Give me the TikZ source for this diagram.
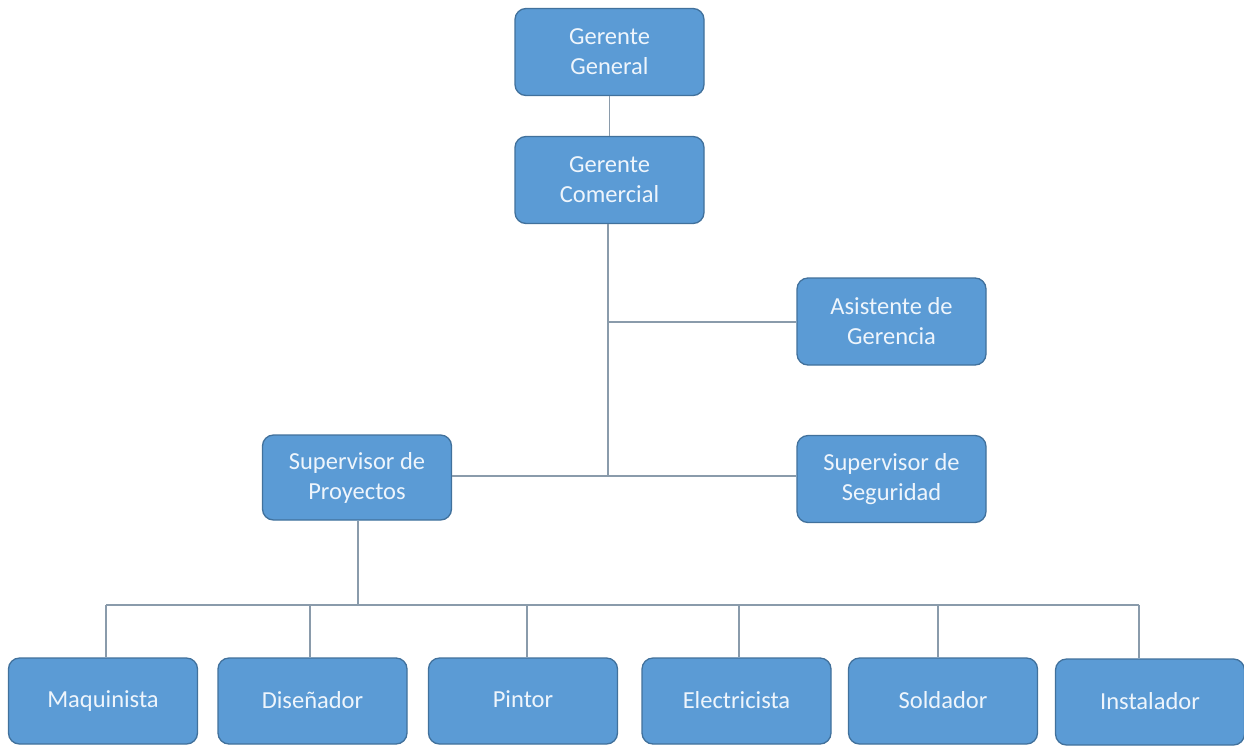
\documentclass[tikz,border=0pt]{standalone}
\usepackage{fontspec}
\setmainfont{Carlito}
\definecolor{boxfill}{HTML}{5B9BD5}
\definecolor{boxedge}{HTML}{41719C}
\definecolor{linkcol}{HTML}{8A9BAB}
\definecolor{txtcol}{HTML}{EEF5FC}
\begin{document}
\begin{tikzpicture}[x=1pt,y=-1pt,
  orgbox/.style={draw=boxedge, line width=1.3pt, fill=boxfill, rounded corners=11pt,
    minimum width=189pt, minimum height=87pt, inner sep=0pt, align=center,
    text=txtcol, font=\fontsize{24.5}{30}\selectfont},
  link/.style={draw=linkcol, line width=1.3pt}]
\useasboundingbox (0,0) rectangle (1244,745);
\fill[white] (0,0) rectangle (1244,745);

\node[orgbox] (gg) at (609.5,52) {Gerente\\General};
\node[orgbox] (gc) at (609.5,180) {Gerente\\Comercial};
\node[orgbox] (ag) at (891.5,321.5) {Asistente de\\Gerencia};
\node[orgbox] (ss) at (891.5,479) {Supervisor de\\Seguridad};
\node[orgbox, minimum height=85pt] (sp) at (357,477.5) {Supervisor de\\Proyectos};

\node[orgbox, minimum height=86pt] (maq) at (103,701) {\raisebox{3pt}{Maquinista}};
\node[orgbox, minimum height=86pt] (dis) at (312.5,701) {\raisebox{3pt}{Diseñador}};
\node[orgbox, minimum height=86pt] (pin) at (523,701) {\raisebox{3pt}{Pintor}};
\node[orgbox, minimum height=86pt] (ele) at (736.5,701) {\raisebox{3pt}{Electricista}};
\node[orgbox, minimum height=86pt] (sol) at (943,701) {\raisebox{3pt}{Soldador}};
\node[orgbox, minimum height=86pt] (ins) at (1150,702) {\raisebox{3pt}{Instalador}};

\coordinate (j1) at (608,322);
\coordinate (j2) at (608,476);
\coordinate (bus) at (358,605);

\draw[link] (gg.south) -- (gc.north);
\draw[link] (gc.south -| j1) -- (j2);
\draw[link] (j1) -- (ag.west |- j1);
\draw[link] (j2) -- (ss.west |- j2);
\draw[link] (j2) -- (sp.east |- j2);
\draw[link] (sp.south -| bus) -- (bus);
\draw[link] (106,605) -- (1139,605);
\draw[link] (106,605) -- (maq.north -| 106,0);
\draw[link] (310,605) -- (dis.north -| 310,0);
\draw[link] (527,605) -- (pin.north -| 527,0);
\draw[link] (739,605) -- (ele.north -| 739,0);
\draw[link] (938,605) -- (sol.north -| 938,0);
\draw[link] (1139,605) -- (ins.north -| 1139,0);
\end{tikzpicture}
\end{document}
